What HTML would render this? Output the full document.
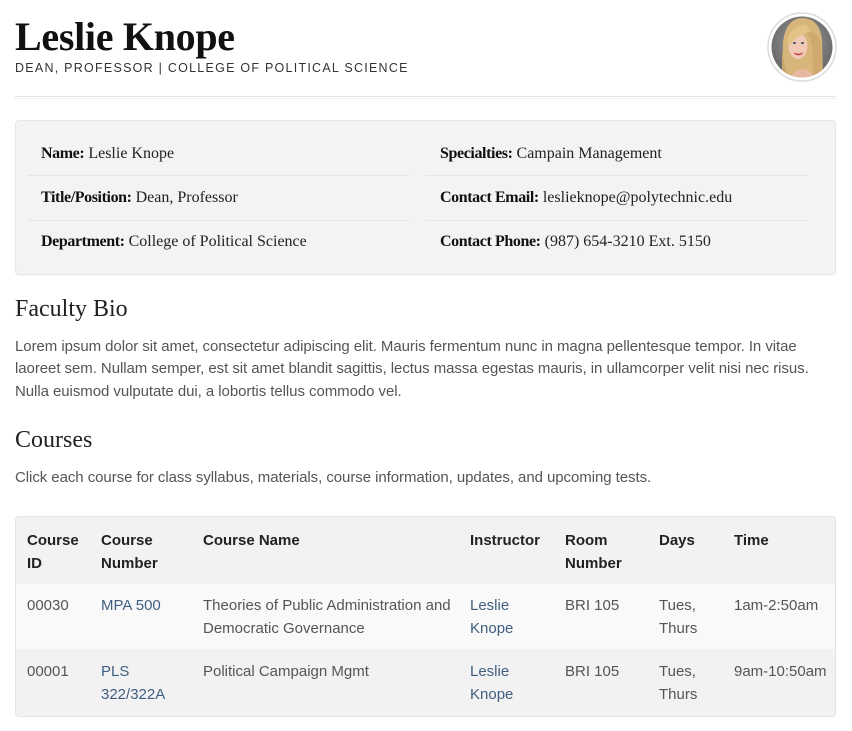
<!DOCTYPE html>
<html>
<head>
<meta charset="utf-8">
<style>
  html,body{margin:0;padding:0;background:#fff;}
  body{width:852px;height:731px;position:relative;overflow:hidden;font-family:"Liberation Sans",Arial,sans-serif;}
  .a{position:absolute;white-space:nowrap;}
  .serif{font-family:"Liberation Serif","Times New Roman",serif;}
  .info{font-size:16px;line-height:20px;color:#222;}
  .info b{letter-spacing:-0.4px;color:#111;}
  .p{font-size:15px;line-height:22.5px;color:#555;letter-spacing:-0.06px;}
  .th{font-size:15px;line-height:22.5px;color:#222;font-weight:bold;}
  .td{font-size:15px;line-height:22.5px;color:#555;}
  .lk{color:#3f5f80;}
</style>
</head>
<body>
  <!-- Header -->
  <div class="a serif" style="left:15px;top:17px;font-size:40px;line-height:40px;font-weight:bold;color:#111;letter-spacing:-0.3px;">Leslie Knope</div>
  <div class="a" style="left:15px;top:61px;font-size:12.5px;line-height:14px;letter-spacing:1.25px;color:#333;">DEAN, PROFESSOR | COLLEGE OF POLITICAL SCIENCE</div>

  <!-- Avatar -->
  <svg class="a" style="left:767px;top:12px;" width="70" height="70" viewBox="0 0 70 70">
    <defs>
      <clipPath id="c"><circle cx="35" cy="35" r="30.5"/></clipPath>
      <radialGradient id="bg" cx="50%" cy="45%" r="60%">
        <stop offset="0" stop-color="#9a9a9a"/>
        <stop offset="1" stop-color="#5e5e5e"/>
      </radialGradient>
    </defs>
    <circle cx="35" cy="35" r="34" fill="#fff" stroke="#dcdcdc" stroke-width="1.5"/>
    <g clip-path="url(#c)">
      <rect x="0" y="0" width="70" height="70" fill="url(#bg)"/>
      <path d="M15 70 L16 30 Q19 6 36 6 Q53 7 55 28 L56 70 Z" fill="#d8b57a"/>
      <path d="M22 70 Q26 58 35 57 Q45 58 50 70 Z" fill="#e8b9a0"/>
      <ellipse cx="31" cy="34" rx="9.5" ry="13" fill="#f1c9b4"/>
      <path d="M20 30 Q24 13 38 13 Q47 17 45 34 L43 22 Q33 20 24 32 Z" fill="#e2c486"/>
      <ellipse cx="27.5" cy="31" rx="1.6" ry="1" fill="#4a5a70"/>
      <ellipse cx="35.5" cy="31" rx="1.6" ry="1" fill="#4a5a70"/>
      <path d="M27.5 41 Q31.5 43.5 35.5 41 Q31.5 44.5 27.5 41 Z" fill="#c0304a" stroke="#c0304a" stroke-width="1"/>
      <path d="M39 20 Q49 30 45 70 L55 70 L54 32 Q51 18 39 20 Z" fill="#cfa96e"/>
      <path d="M15 40 Q18 55 22 70 L15 70 Z" fill="#c9a56c"/>
    </g>
  </svg>

  <!-- HR -->
  <div class="a" style="left:15px;top:96px;width:821px;height:1px;background:#e4e4e4;"></div>
  <div class="a" style="left:15px;top:98px;width:821px;height:1px;background:#efefef;"></div>

  <!-- Info box -->
  <div class="a" style="left:15px;top:120px;width:819px;height:153px;background:#f3f3f3;border:1px solid #e6e6e6;border-radius:4px;box-shadow:0 1px 1px rgba(0,0,0,0.04);"></div>
  <div class="a" style="left:27px;top:175px;width:382px;height:1px;background:#e6e6e6;"></div>
  <div class="a" style="left:27px;top:220px;width:382px;height:1px;background:#e6e6e6;"></div>
  <div class="a" style="left:426px;top:175px;width:382px;height:1px;background:#e6e6e6;"></div>
  <div class="a" style="left:426px;top:220px;width:382px;height:1px;background:#e6e6e6;"></div>

  <div class="a serif info" style="left:41px;top:144px;"><b>Name:</b> Leslie Knope</div>
  <div class="a serif info" style="left:41px;top:188px;"><b>Title/Position:</b> Dean, Professor</div>
  <div class="a serif info" style="left:41px;top:232px;"><b>Department:</b> College of Political Science</div>
  <div class="a serif info" style="left:440px;top:144px;"><b>Specialties:</b> Campain Management</div>
  <div class="a serif info" style="left:440px;top:188px;"><b>Contact Email:</b> leslieknope@polytechnic.edu</div>
  <div class="a serif info" style="left:440px;top:232px;"><b>Contact Phone:</b> (987) 654-3210 Ext. 5150</div>

  <!-- Faculty Bio -->
  <div class="a serif" style="left:15px;top:295px;font-size:24px;line-height:28px;color:#222;">Faculty Bio</div>
  <div class="a p" style="left:15px;top:335.5px;">Lorem ipsum dolor sit amet, consectetur adipiscing elit. Mauris fermentum nunc in magna pellentesque tempor. In vitae<br>laoreet sem. Nullam semper, est sit amet blandit sagittis, lectus massa egestas mauris, in ullamcorper velit nisi nec risus.<br>Nulla euismod vulputate dui, a lobortis tellus commodo vel.</div>

  <!-- Courses -->
  <div class="a serif" style="left:15px;top:426px;font-size:24px;line-height:28px;color:#222;">Courses</div>
  <div class="a p" style="left:15px;top:466.8px;">Click each course for class syllabus, materials, course information, updates, and upcoming tests.</div>

  <!-- Table -->
  <div class="a" style="left:15px;top:516px;width:819px;height:199px;background:#f2f2f2;border:1px solid #e4e4e4;border-radius:4px;overflow:hidden;">
    <div style="position:absolute;left:0;top:67px;width:819px;height:65px;background:#f9f9f9;"></div>
  </div>

  <div class="a th" style="left:27px;top:530px;">Course<br>ID</div>
  <div class="a th" style="left:101px;top:530px;">Course<br>Number</div>
  <div class="a th" style="left:203px;top:530px;">Course Name</div>
  <div class="a th" style="left:470px;top:530px;">Instructor</div>
  <div class="a th" style="left:565px;top:530px;">Room<br>Number</div>
  <div class="a th" style="left:659px;top:530px;">Days</div>
  <div class="a th" style="left:734px;top:530px;">Time</div>

  <div class="a td" style="left:27px;top:595px;">00030</div>
  <div class="a td lk" style="left:101px;top:595px;">MPA 500</div>
  <div class="a td" style="left:203px;top:595px;">Theories of Public Administration and<br>Democratic Governance</div>
  <div class="a td lk" style="left:470px;top:595px;">Leslie<br>Knope</div>
  <div class="a td" style="left:565px;top:595px;">BRI 105</div>
  <div class="a td" style="left:659px;top:595px;">Tues,<br>Thurs</div>
  <div class="a td" style="left:734px;top:595px;">1am-2:50am</div>

  <div class="a td" style="left:27px;top:661px;">00001</div>
  <div class="a td lk" style="left:101px;top:661px;">PLS<br>322/322A</div>
  <div class="a td" style="left:203px;top:661px;">Political Campaign Mgmt</div>
  <div class="a td lk" style="left:470px;top:661px;">Leslie<br>Knope</div>
  <div class="a td" style="left:565px;top:661px;">BRI 105</div>
  <div class="a td" style="left:659px;top:661px;">Tues,<br>Thurs</div>
  <div class="a td" style="left:734px;top:661px;">9am-10:50am</div>
</body>
</html>
